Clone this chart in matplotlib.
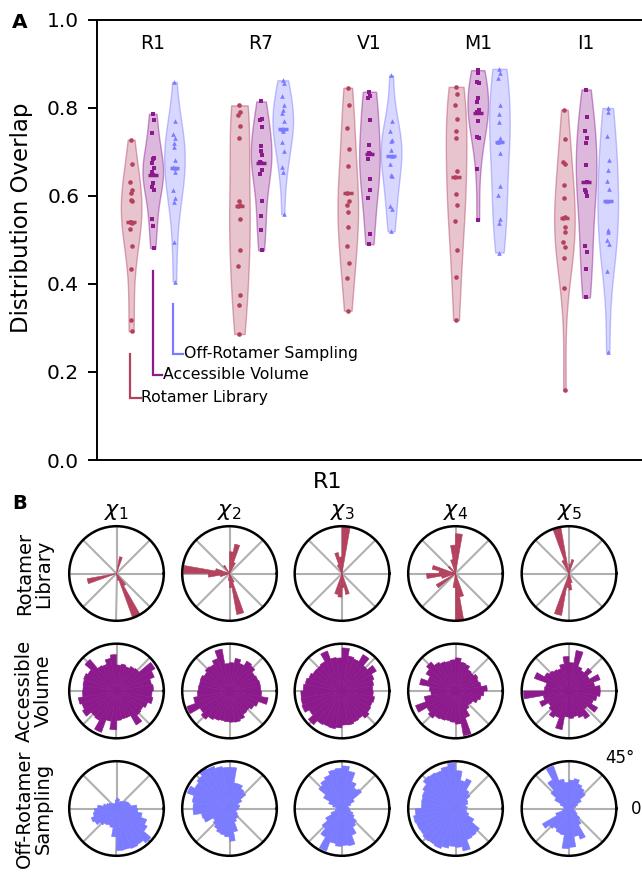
import numpy as np
import matplotlib
matplotlib.use('Agg')
import matplotlib.pyplot as plt
from matplotlib.colors import to_rgba

# ===== DADOS: painel A (Distribution Overlap) =====
residues = ['R1', 'R7', 'V1', 'M1', 'I1']
methods = ['Rotamer Library', 'Accessible Volume', 'Off-Rotamer Sampling']
colors = ['#b4425e', '#8c1a8c', '#7b7bff']
markers = ['o', 's', '^']

r1_rl = [0.727, 0.673, 0.630, 0.614, 0.605, 0.591, 0.589, 0.540, 0.540, 0.538, 0.524, 0.485, 0.433, 0.317, 0.292]
r1_av = [0.786, 0.771, 0.742, 0.685, 0.683, 0.674, 0.664, 0.653, 0.648, 0.629, 0.619, 0.612, 0.548, 0.531, 0.481]
r1_or = [0.858, 0.769, 0.741, 0.731, 0.720, 0.711, 0.682, 0.665, 0.663, 0.653, 0.614, 0.595, 0.585, 0.494, 0.405]
r7_rl = [0.805, 0.789, 0.784, 0.758, 0.730, 0.589, 0.578, 0.576, 0.548, 0.477, 0.441, 0.375, 0.352, 0.286]
r7_av = [0.814, 0.774, 0.771, 0.756, 0.712, 0.701, 0.693, 0.676, 0.674, 0.659, 0.649, 0.589, 0.553, 0.521, 0.476]
r7_or = [0.862, 0.855, 0.827, 0.807, 0.795, 0.788, 0.769, 0.751, 0.751, 0.748, 0.723, 0.701, 0.665, 0.653, 0.558]
v1_rl = [0.845, 0.805, 0.754, 0.706, 0.667, 0.606, 0.589, 0.578, 0.564, 0.530, 0.485, 0.448, 0.413, 0.339]
v1_av = [0.836, 0.827, 0.822, 0.771, 0.714, 0.698, 0.695, 0.684, 0.639, 0.614, 0.594, 0.514, 0.490]
v1_or = [0.873, 0.769, 0.746, 0.727, 0.724, 0.703, 0.690, 0.673, 0.648, 0.644, 0.576, 0.570, 0.519]
m1_rl = [0.847, 0.832, 0.805, 0.774, 0.748, 0.731, 0.655, 0.642, 0.603, 0.580, 0.542, 0.477, 0.415, 0.318]
m1_av = [0.885, 0.879, 0.858, 0.855, 0.822, 0.813, 0.795, 0.789, 0.788, 0.770, 0.733, 0.730, 0.661, 0.544]
m1_or = [0.888, 0.879, 0.867, 0.805, 0.786, 0.767, 0.730, 0.721, 0.697, 0.623, 0.601, 0.548, 0.538, 0.471]
i1_rl = [0.795, 0.729, 0.676, 0.672, 0.624, 0.594, 0.552, 0.549, 0.530, 0.518, 0.496, 0.483, 0.458, 0.391, 0.158]
i1_av = [0.841, 0.778, 0.748, 0.730, 0.719, 0.670, 0.632, 0.614, 0.608, 0.600, 0.486, 0.473, 0.434, 0.369]
i1_or = [0.799, 0.789, 0.735, 0.680, 0.659, 0.634, 0.615, 0.588, 0.523, 0.517, 0.500, 0.491, 0.428, 0.245]

# linha horizontal (marcador) de cada violino
mark_rl = [0.540, 0.576, 0.606, 0.642, 0.549]
mark_av = [0.648, 0.674, 0.695, 0.788, 0.632]
mark_or = [0.663, 0.751, 0.690, 0.721, 0.588]

# ===== DADOS: painel B (histogramas polares de R1, bins de 10 graus) =====
chi_labels = [r'$\chi_1$', r'$\chi_2$', r'$\chi_3$', r'$\chi_4$', r'$\chi_5$']
row_labels = ['Rotamer\nLibrary', 'Accessible\nVolume', 'Off-Rotamer\nSampling']

rl_chi1 = [0, 0, 0, 0, 0, 0, 0, .36, 0, 0, 0, 0, 0, 0, 0, 0, 0, 0,
           0, .63, 0, 0, 0, 0, 0, 0, 0, 0, .15, .99, .30, 0, 0, 0, 0, 0]
rl_chi2 = [0, 0, 0, 0, 0, 0, .25, .63, .46, 0, 0, 0, .20, 0, 0, 0, .30, .97,
           .45, .20, 0, 0, 0, 0, 0, 0, .15, .30, .88, .20, 0, 0, 0, 0, 0, 0]
rl_chi3 = [0, 0, 0, 0, 0, 0, 0, 0, 1.0, .35, .45, .20, 0, 0, 0, 0, 0, 0,
           0, 0, 0, 0, 0, 0, 0, .45, .50, .30, .45, 0, 0, 0, 0, 0, 0, 0]
rl_chi4 = [0, 0, 0, 0, 0, 0, 0, 0, .84, .60, .30, 0, 0, .20, 0, 0, .50, .35,
           .61, .30, 0, .47, 0, 0, 0, 0, .30, 1.0, .50, 0, 0, 0, 0, 0, 0, 0]
rl_chi5 = [0, 0, 0, 0, 0, 0, 0, .30, .20, 0, .99, .30, 0, 0, 0, 0, 0, 0,
           0, 0, 0, 0, 0, 0, 0, .90, .30, .35, .20, 0, 0, 0, 0, 0, 0, 0]

av_chi1 = [.78, .75, .85, .94, .62, .60, .55, .58, .55, .77, .70, .60, .62, .87, .70, .74, .72, .71,
           .72, .82, .78, .83, .70, .72, .93, .65, .82, .62, .60, .60, .83, .67, .65, .70, .78, .75]
av_chi2 = [.66, .66, .64, .62, .70, .73, .62, .70, .60, .58, .90, .73, .65, .67, .62, .66, .65, .66,
           .68, .77, .96, .72, .78, .70, .66, .64, .65, .66, .67, .64, .57, .55, .60, .65, .83, .68]
av_chi3 = [.65, .68, .72, .84, .70, .89, .72, .75, .91, .70, .72, .90, .72, .70, .71, .75, .79, .82,
           .87, .88, .90, .80, .93, .82, .80, .81, .78, .72, .73, .70, .68, .75, .70, .68, .70, .66]
av_chi4 = [.67, .55, .52, .55, .50, .52, .60, .62, .70, .66, .64, .66, .70, .80, .72, .62, .77, .55,
           .52, .67, .90, .70, .75, .68, .66, .64, .66, .70, .96, .60, .45, .40, .42, .50, .55, .60]
av_chi5 = [.66, .55, .70, .50, .63, .50, .55, .87, .60, .73, .58, .50, .52, .55, .60, .78, .50, .52,
           .96, .55, .66, .50, .55, .65, .60, .83, .55, .58, .55, .60, .68, .50, .70, .55, .60, .66]

or_chi1 = [.43, .30, .28, .25, .20, .18, .15, .20, .22, .18, .12, .10, .12, .15, .18, .22, .28, .40,
           .47, .50, .57, .53, .45, .40, .38, .41, .60, .89, .88, .90, .88, .95, .75, .68, .55, .45]
or_chi2 = [.20, .22, .20, .30, .45, .48, .55, .55, .87, .87, .90, .95, .98, .90, .85, .95, .80, .77,
           .77, .60, .58, .40, .45, .50, .55, .57, .60, .69, .50, .30, .25, .25, .20, .15, .15, .18]
or_chi3 = [.15, .12, .20, .30, .54, .50, .60, .80, .90, .85, .83, .75, .70, .64, .45, .30, .20, .12,
           .10, .15, .25, .40, .55, .70, .96, .75, .80, .78, .80, .60, .45, .40, .30, .25, .18, .15]
or_chi4 = [.25, .22, .28, .30, .40, .45, .67, .60, .80, .96, .90, .85, .87, .89, .80, .75, .73, .72,
           .85, .90, .88, .87, .90, .88, .90, .85, .80, .82, .91, .70, .68, .66, .45, .30, .24, .22]
or_chi5 = [.10, .15, .20, .30, .45, .50, .55, .64, .60, .55, .63, .96, .70, .50, .35, .20, .12, .10,
           .10, .15, .30, .65, .55, .50, .55, .57, .85, .82, .60, .69, .40, .30, .20, .15, .10, .10]

overlap = {
    'R1': [r1_rl, r1_av, r1_or],
    'R7': [r7_rl, r7_av, r7_or],
    'V1': [v1_rl, v1_av, v1_or],
    'M1': [m1_rl, m1_av, m1_or],
    'I1': [i1_rl, i1_av, i1_or],
}
marks = [mark_rl, mark_av, mark_or]
hists = [
    [rl_chi1, rl_chi2, rl_chi3, rl_chi4, rl_chi5],
    [av_chi1, av_chi2, av_chi3, av_chi4, av_chi5],
    [or_chi1, or_chi2, or_chi3, or_chi4, or_chi5],
]

W, H = 642, 873
fig = plt.figure(figsize=(W / 100, H / 100), dpi=100)

# ===== PAINEL A =====
axA = fig.add_axes([97 / W, 1 - 460 / H, (650 - 97) / W, 440.5 / H])
offsets = [-0.2, 0.0, 0.2]
for i, res in enumerate(residues):
    for j in range(3):
        vals = np.array(overlap[res][j])
        x = i + offsets[j]
        vp = axA.violinplot(vals, positions=[x], widths=0.19, showextrema=False)
        for b in vp['bodies']:
            b.set_alpha(None)
            b.set_facecolor(to_rgba(colors[j], 0.3))
            b.set_edgecolor(to_rgba(colors[j], 0.45))
            b.set_linewidth(1)
        jit = 0.01 * np.sin(np.arange(len(vals)) * 2.4)
        axA.scatter(x + jit, vals, marker=markers[j], s=11, color=colors[j],
                    linewidths=0, zorder=3)
        axA.plot([x - 0.045, x + 0.045], [marks[j][i]] * 2, color=colors[j],
                 lw=2.5, solid_capstyle='butt', zorder=4)
    axA.text(i, 0.945, res, ha='center', va='center', fontsize=13.5)

# legenda em colchetes
brackets = [(-0.21, 0.241, 0.141, -0.11), (0.0, 0.430, 0.193, 0.085), (0.19, 0.355, 0.241, 0.28)]
for j, (bx, y0, y1, hx) in enumerate(brackets):
    axA.plot([bx, bx, hx], [y0, y1, y1], color=colors[j], lw=1.6, solid_joinstyle='miter')
    axA.text(hx + 0.005, y1, methods[j], ha='left', va='center', fontsize=11.3)

axA.set_xlim(-0.515, 4.59)
axA.set_ylim(0, 1.0)
axA.set_xticks([])
axA.set_yticks(np.arange(0, 1.01, 0.2))
axA.set_yticklabels([f'{v:.1f}' for v in np.arange(0, 1.01, 0.2)])
axA.tick_params(axis='y', labelsize=14.5, length=6.8, width=1.4, pad=6)
axA.set_ylabel('Distribution Overlap', fontsize=16.5)
axA.yaxis.set_label_coords((33 - 97) / 553, (460 - 218) / 440.5)
for s in axA.spines.values():
    s.set_linewidth(1.4)
fig.text(12 / W, 1 - 22 / H, 'A', fontsize=14.5, fontweight='bold', va='center', ha='left')

# ===== PAINEL B =====
cx = [116.5, 229.5, 342, 455.5, 569]
cy = [573.5, 691, 808.5]
R = 47.3
theta = np.deg2rad(np.arange(0, 360, 10))
for r in range(3):
    for c in range(5):
        ax = fig.add_axes([(cx[c] - R) / W, 1 - (cy[r] + R) / H, 2 * R / W, 2 * R / H],
                          projection='polar')
        ax.bar(theta, hists[r][c], width=np.deg2rad(10), align='edge',
               color=colors[r], edgecolor=colors[r], linewidth=0.4)
        ax.set_ylim(0, 1.0)
        ax.set_yticks([])
        ax.set_xticks(np.deg2rad(np.arange(0, 360, 45)))
        if r == 2 and c == 4:
            ax.set_xticklabels(['0°', '45°', '', '', '', '', '', ''])
            ax.tick_params(axis='x', labelsize=12, pad=7)
        else:
            ax.set_xticklabels([])
        ax.grid(True, color='#b0b0b0', lw=1.5)
        ax.set_axisbelow(True)
        ax.spines['polar'].set_linewidth(1.8)
        if r == 0:
            ax.set_title(chi_labels[c], fontsize=16, pad=7)
    fig.text(34 / W, 1 - cy[r] / H, row_labels[r], rotation=90, ha='center', va='center',
             fontsize=14, multialignment='center', linespacing=1.0)

fig.text(328 / W, 1 - 482 / H, 'R1', ha='center', va='center', fontsize=16)
fig.text(12 / W, 1 - 504 / H, 'B', fontsize=14, fontweight='bold', va='center', ha='left')

fig.savefig('out.png', dpi=100)
